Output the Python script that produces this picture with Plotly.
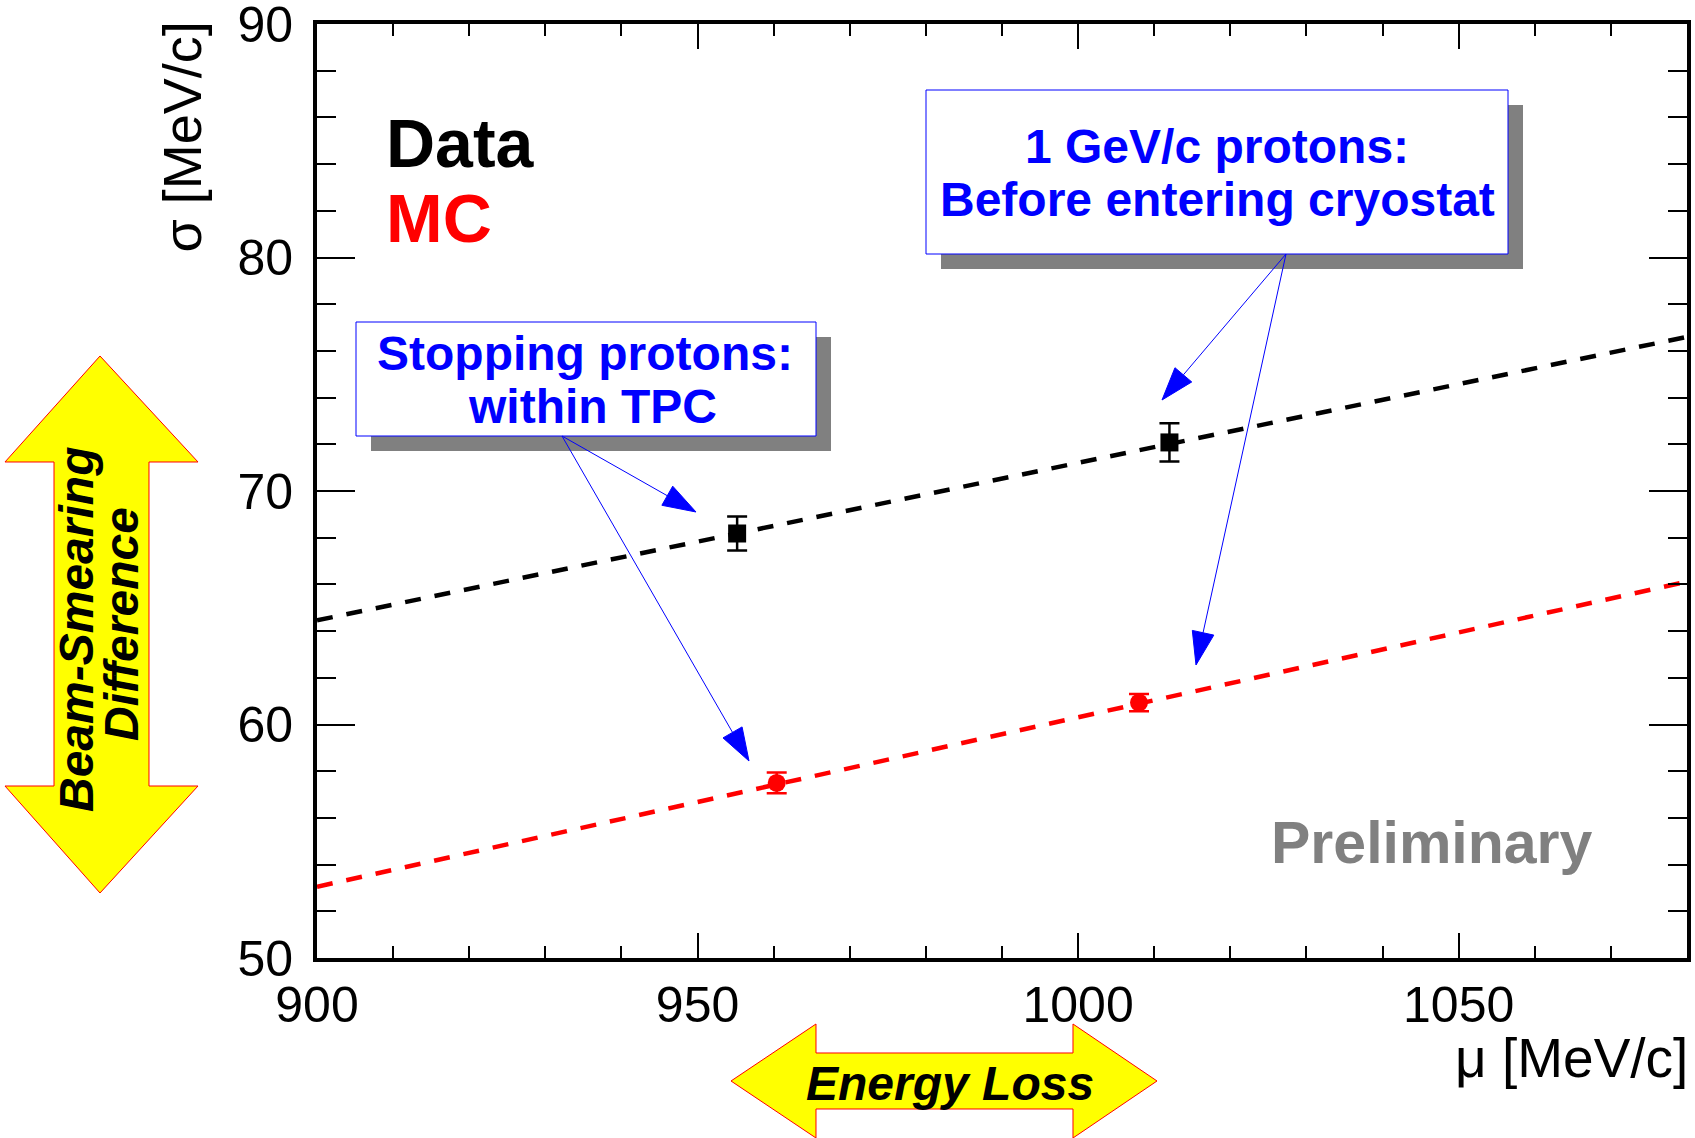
import math
import plotly.graph_objects as go

# ---- data ----
data_x = [955.2, 1012.0]
data_y = [68.18, 72.08]
data_err = [0.73, 0.82]

mc_x = [960.4, 1008.0]
mc_y = [57.5, 60.94]
mc_err = [0.44, 0.37]

fit_x = [900, 1080]
data_fit_y = [64.46, 76.6]
mc_fit_y = [53.05, 66.12]

x_ticks = [900, 950, 1000, 1050]
y_ticks = [50, 60, 70, 80, 90]

W, H = 1695, 1138
L, R, T, B = 317, 1687, 24, 958
FONT = "Liberation Sans"


def px(X):
    return (X - L) / (R - L)


def py(Y):
    return (B - Y) / (B - T)


fig = go.Figure()

fig.add_trace(go.Scatter(x=fit_x, y=data_fit_y, mode="lines",
                         line=dict(color="black", width=4.5, dash="16px,14px"),
                         showlegend=False, hoverinfo="skip"))
fig.add_trace(go.Scatter(x=fit_x, y=mc_fit_y, mode="lines",
                         line=dict(color="red", width=4.5, dash="16px,14px"),
                         showlegend=False, hoverinfo="skip"))
fig.add_trace(go.Scatter(x=data_x, y=data_y, mode="markers",
                         marker=dict(symbol="square", size=18, color="black"),
                         error_y=dict(type="data", array=data_err, color="black",
                                      thickness=2.5, width=10),
                         showlegend=False))
fig.add_trace(go.Scatter(x=mc_x, y=mc_y, mode="markers",
                         marker=dict(symbol="circle", size=18, color="red"),
                         error_y=dict(type="data", array=mc_err, color="red",
                                      thickness=2.5, width=10),
                         showlegend=False))

shapes = []
annotations = []


def poly_path(points):
    return "M " + " L ".join(f"{px(a):.5f},{py(b):.5f}" for a, b in points) + " Z"


# --- yellow double arrows ---
v_arrow = [(100, 356), (198, 462), (149, 462), (149, 786), (198, 786), (100, 893),
           (5, 786), (54, 786), (54, 462), (5, 462)]
h_arrow = [(731, 1081), (816, 1024), (816, 1053), (1073, 1053), (1073, 1024),
           (1157, 1081), (1073, 1138), (1073, 1109), (816, 1109), (816, 1138)]
for pts in (v_arrow, h_arrow):
    shapes.append(dict(type="path", path=poly_path(pts), xref="paper", yref="paper",
                       fillcolor="#ffff00", line=dict(color="red", width=1), layer="above"))


# --- text boxes with shadows ---
def box(x0, y0, x1, y1, off=15):
    shapes.append(dict(type="rect", xref="paper", yref="paper",
                       x0=px(x0 + off), x1=px(x1 + off), y0=py(y0 + off), y1=py(y1 + off),
                       fillcolor="#808080", line=dict(width=0), layer="above"))
    shapes.append(dict(type="rect", xref="paper", yref="paper",
                       x0=px(x0), x1=px(x1), y0=py(y0), y1=py(y1),
                       fillcolor="white", line=dict(color="blue", width=1), layer="above"))


box(356, 322, 816, 436)
box(926, 90, 1508, 254)


def text(X, Y, s, size, color="black", xanchor="center", yanchor="middle",
         weight="bold", style="normal", angle=0):
    annotations.append(dict(x=px(X), y=py(Y), xref="paper", yref="paper", text=s,
                            showarrow=False, xanchor=xanchor, yanchor=yanchor,
                            textangle=angle,
                            font=dict(family=FONT, size=size, color=color,
                                      weight=weight, style=style)))


text(585, 353, "Stopping protons:", 48, "blue")
text(592, 406, "within TPC", 48, "blue")
text(1217, 146, "1 GeV/c protons:", 48, "blue")
text(1217, 200, "Before entering cryostat", 48, "blue")

text(384, 143, "Data", 68, "black", xanchor="left")
text(384, 218, "MC", 68, "red", xanchor="left")
text(1432, 843, "Preliminary", 59, "#808080")

text(76, 630, "Beam-Smearing", 48, style="italic", angle=-90)
text(121, 624, "Difference", 48, style="italic", angle=-90)
text(950, 1083, "Energy Loss", 48, style="italic")

# axis titles
text(1690, 1058, "μ [MeV/c]", 55, xanchor="right", weight="normal")
annotations.append(dict(x=px(182), y=py(20), xref="paper", yref="paper",
                        text="σ [MeV/c]", showarrow=False, textangle=-90,
                        xanchor="center", yanchor="top",
                        font=dict(family=FONT, size=54, color="black")))


# pointer arrows (thin line + elongated filled head)
def pointer(x0, y0, x1, y1, hl=33, hw=22):
    dx, dy = x1 - x0, y1 - y0
    n = math.hypot(dx, dy)
    ux, uy = dx / n, dy / n
    bx, by = x1 - hl * ux, y1 - hl * uy
    shapes.append(dict(type="line", xref="paper", yref="paper",
                       x0=px(x0), y0=py(y0), x1=px(bx), y1=py(by),
                       line=dict(color="blue", width=1), layer="above"))
    c1 = (bx - uy * hw / 2, by + ux * hw / 2)
    c2 = (bx + uy * hw / 2, by - ux * hw / 2)
    shapes.append(dict(type="path", xref="paper", yref="paper",
                       path=poly_path([(x1, y1), c1, c2]),
                       fillcolor="blue", line=dict(color="blue", width=1), layer="above"))


pointer(562, 436, 696, 512)
pointer(562, 436, 749, 761)
pointer(1286, 254, 1162, 400)
pointer(1286, 254, 1196, 665)

axis_common = dict(showline=True, linewidth=4, linecolor="black", mirror="ticks",
                   ticks="inside", tickwidth=2, tickcolor="black", showgrid=False,
                   zeroline=False, ticklabeloverflow="allow", automargin=False,
                   tickfont=dict(family=FONT, size=50, color="black"))

fig.update_layout(
    width=W, height=H,
    margin=dict(l=L, r=W - R, t=T, b=H - B, autoexpand=False),
    paper_bgcolor="white", plot_bgcolor="white",
    showlegend=False,
    shapes=shapes, annotations=annotations,
    xaxis=dict(range=[900, 1080], tickvals=x_ticks, ticklen=25,
               minor=dict(dtick=10, ticklen=12, tickwidth=2, ticks="inside", tickcolor="black"),
               **axis_common),
    yaxis=dict(range=[50, 90], tickvals=y_ticks, ticklen=38, ticklabelstandoff=10,
               minor=dict(dtick=2, ticklen=19, tickwidth=2, ticks="inside", tickcolor="black"),
               **axis_common),
)

fig.write_html("out.html", config={"displayModeBar": False},
               post_script="document.body.style.margin='0px';")
